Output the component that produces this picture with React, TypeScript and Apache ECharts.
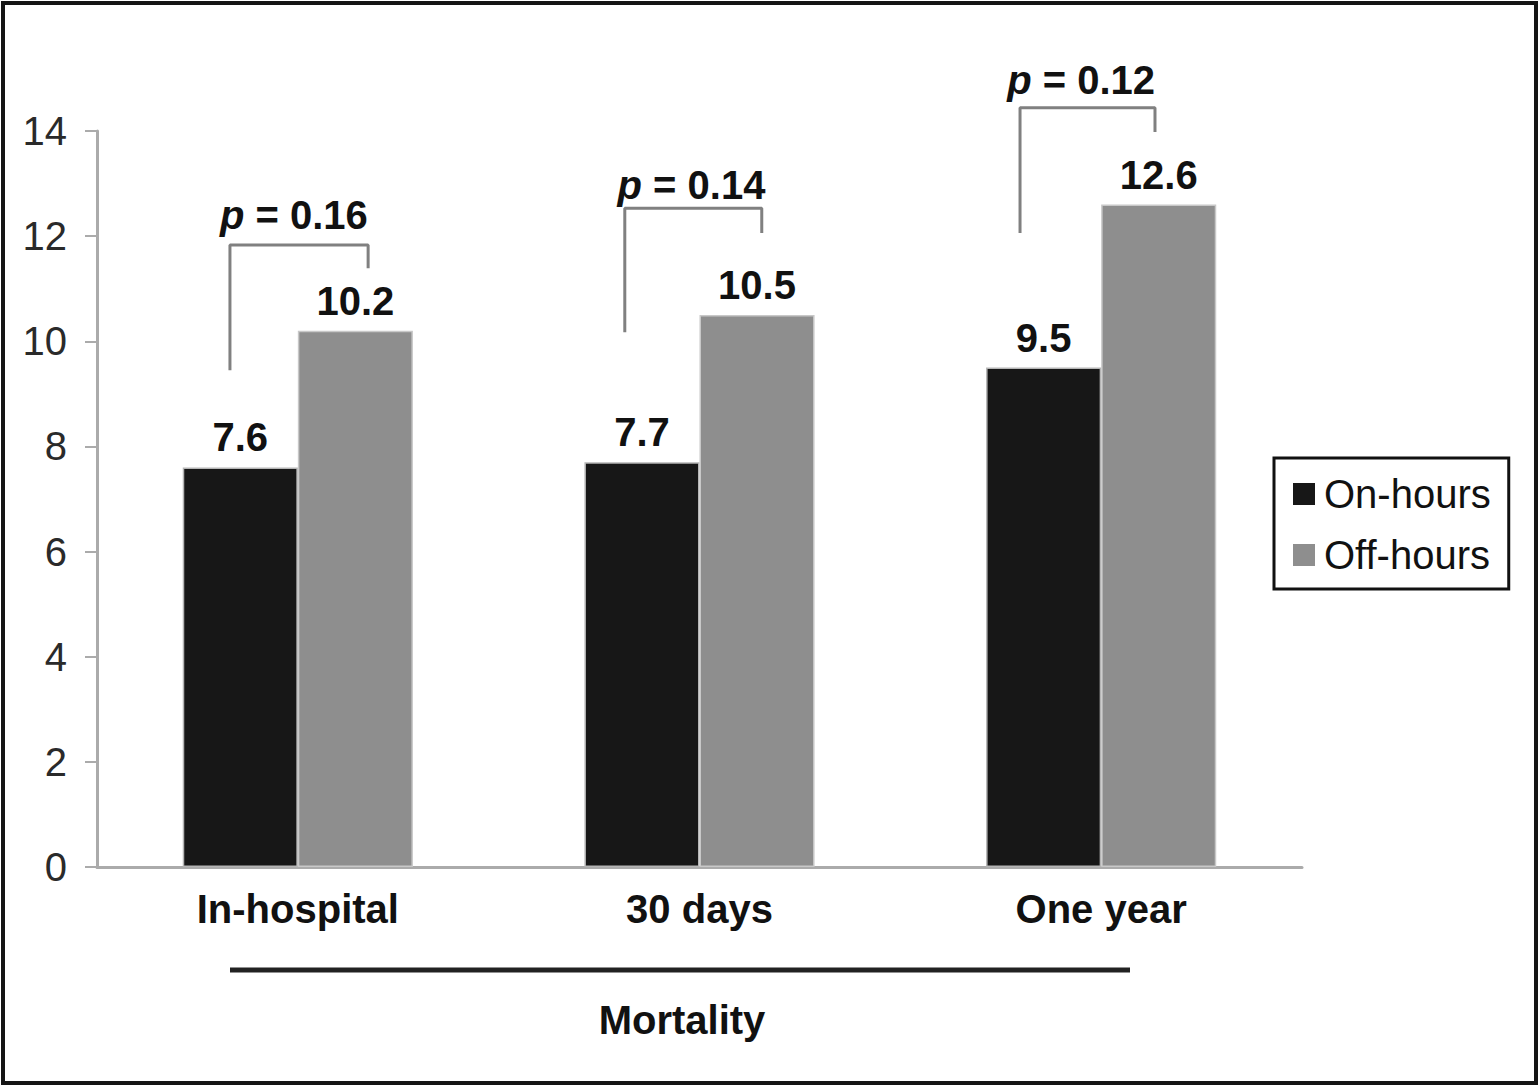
import { useEffect, useRef } from "react";
import * as echarts from "echarts";

const categories = ["In-hospital", "30 days", "One year"];
const onHours = [7.6, 7.7, 9.5];
const offHours = [10.2, 10.5, 12.6];
const seriesNames = ["On-hours", "Off-hours"];

// p-value brackets, x in category units (0..3), y in axis units
const pValues = ["0.16", "0.14", "0.12"];
const pLabelX = [0.49, 1.48, 2.45];
const pLabelY = [12.4, 12.97, 14.97];
const bracketLeftX = [0.331, 1.314, 2.298];
const bracketRightX = [0.675, 1.655, 2.634];
const bracketTop = [11.83, 12.53, 14.44];
const bracketLeftEnd = [9.45, 10.17, 12.06];
const bracketRightEnd = [11.39, 12.06, 13.98];

const FONT = "'Liberation Sans', Arial, Helvetica, sans-serif";
const AXIS_GRAY = "#ababab";

export default function App() {
  const ref = useRef<HTMLDivElement>(null);

  useEffect(() => {
    if (!ref.current) return;
    document.body.style.margin = "0";
    const chart = echarts.init(ref.current, undefined, { renderer: "svg" });

    const brackets = categories.map((_, i) => ({
      type: "line",
      xAxisIndex: 1,
      silent: true,
      clip: false,
      symbol: "none",
      lineStyle: { color: "#808080", width: 3 },
      data: [
        [bracketLeftX[i], bracketLeftEnd[i]],
        [bracketLeftX[i], bracketTop[i]],
        [bracketRightX[i], bracketTop[i]],
        [bracketRightX[i], bracketRightEnd[i]],
      ],
    }));

    const barLabel = {
      show: true,
      position: "top",
      distance: 10,
      fontSize: 40,
      fontWeight: "bold",
      color: "#111",
      fontFamily: FONT,
    };

    chart.setOption({
      animation: false,
      textStyle: { fontFamily: FONT },
      grid: { left: 97, right: 238, top: 131, bottom: 220 },
      legend: {
        data: seriesNames,
        orient: "vertical",
        left: 1274,
        top: 458,
        width: 240,
        itemWidth: 22,
        itemHeight: 22,
        itemGap: 21,
        icon: "rect",
        padding: [16, 18, 14, 19],
        borderColor: "#111",
        borderWidth: 3,
        itemStyle: { borderWidth: 0 },
        textStyle: {
          fontSize: 40,
          color: "#111",
          fontFamily: FONT,
          padding: [0, 0, 0, 4],
        },
      },
      xAxis: [
        {
          type: "category",
          data: categories,
          axisLine: { lineStyle: { color: AXIS_GRAY, width: 3 } },
          axisTick: { length: 10, lineStyle: { color: AXIS_GRAY, width: 2 } },
          axisLabel: {
            margin: 22,
            fontSize: 40,
            fontWeight: "bold",
            color: "#111",
            fontFamily: FONT,
          },
        },
        { type: "value", min: 0, max: 3, show: false },
      ],
      yAxis: {
        type: "value",
        min: 0,
        max: 14,
        interval: 2,
        splitLine: { show: false },
        axisLine: { show: true, lineStyle: { color: AXIS_GRAY, width: 3 } },
        axisTick: { show: true, length: 12, lineStyle: { color: AXIS_GRAY, width: 2 } },
        axisLabel: { margin: 30, fontSize: 40, color: "#2a2a2a", fontFamily: FONT },
      },
      series: [
        {
          name: seriesNames[0],
          type: "bar",
          data: onHours,
          barGap: "0%",
          barCategoryGap: "42.7%",
          itemStyle: { color: "#171717", borderColor: "#b5b5b5", borderWidth: 1.5 },
          label: barLabel,
        },
        {
          name: seriesNames[1],
          type: "bar",
          data: offHours,
          itemStyle: { color: "#8e8e8e", borderColor: "#c8c8c8", borderWidth: 1.5 },
          label: barLabel,
        },
        ...brackets,
        {
          type: "scatter",
          xAxisIndex: 1,
          silent: true,
          clip: false,
          symbolSize: 0,
          itemStyle: { opacity: 1 },
          data: pValues.map((p, i) => ({ value: [pLabelX[i], pLabelY[i]], p })),
          label: {
            show: true,
            position: "inside",
            opacity: 1,
            formatter: (d: any) => `{i|p} = ${d.data.p}`,
            fontSize: 40,
            fontWeight: "bold",
            color: "#111",
            fontFamily: FONT,
            rich: {
              i: {
                fontSize: 40,
                fontWeight: "bold",
                fontStyle: "italic",
                color: "#111",
                fontFamily: FONT,
              },
            },
          },
        },
      ],
      graphic: [
        {
          type: "rect",
          shape: { x: 3, y: 3, width: 1533, height: 1080 },
          style: { fill: "none", stroke: "#151515", lineWidth: 4 },
          silent: true,
        },
        {
          type: "line",
          shape: { x1: 230, y1: 970, x2: 1130, y2: 970 },
          style: { stroke: "#222", lineWidth: 5 },
          silent: true,
        },
        {
          type: "text",
          x: 682,
          y: 1020,
          style: {
            text: "Mortality",
            fontSize: 40,
            fontWeight: "bold",
            fontFamily: FONT,
            fill: "#111",
            align: "center",
            verticalAlign: "middle",
          },
          silent: true,
        },
      ],
    });

    return () => {
      chart.dispose();
    };
  }, []);

  return <div ref={ref} style={{ width: 1540, height: 1087 }} />;
}
